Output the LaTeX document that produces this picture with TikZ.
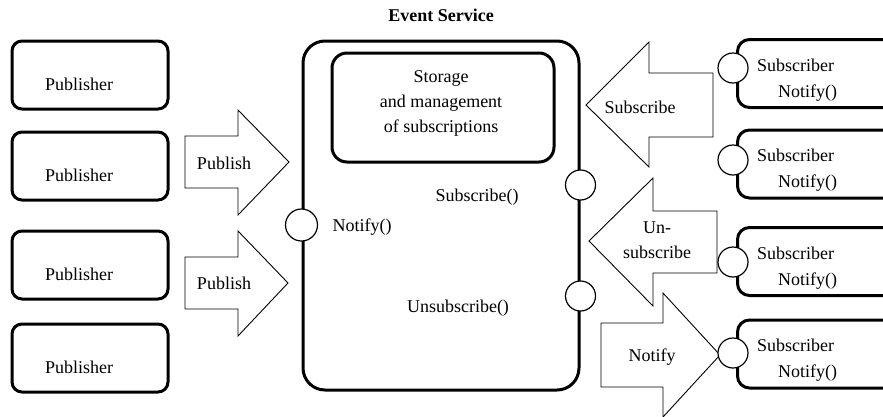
\documentclass[tikz,border=0pt]{standalone}
\usepackage{fontspec}
\setmainfont{Liberation Serif}
\usepackage{tikz}
\usetikzlibrary{positioning}

\begin{document}
\begin{tikzpicture}[
    x=1pt, y=-1pt,
    font=\fontsize{18}{25}\selectfont,
    pubbox/.style={draw, line width=3pt, rounded corners=10pt, minimum width=156pt, minimum height=68pt},
    subbox/.style={draw, line width=3pt, rounded corners=12pt, minimum width=164pt, minimum height=68pt, anchor=west},
    port/.style={circle, draw, fill=white, line width=1.2pt, minimum size=30pt, inner sep=0pt},
    blockarrow/.style={draw, line width=0.9pt, fill=white},
    txt/.style={inner sep=0pt, align=center}
]
    \useasboundingbox (0,0) rectangle (883,416);

    % Nodes
    \node[pubbox] (pub1) at (90,75) {};
    \node[pubbox] (pub2) at (90,166) {};
    \node[pubbox] (pub3) at (90,265) {};
    \node[pubbox] (pub4) at (90,358) {};
    \foreach \i in {1,...,4}
        \node[txt] (pubtxt\i) at ([xshift=-11pt, yshift=-9pt]pub\i.center) {Publisher};

    \node[draw, line width=3pt, rounded corners=22pt, minimum width=276pt, minimum height=349pt] (evs) at (441,215.5) {};
    \node[txt, font=\fontsize{18}{25}\selectfont\bfseries, above=18pt of evs.north] (evstitle) {Event Service};
    \node[draw, line width=3pt, rounded corners=15pt, minimum width=222pt, minimum height=109pt] (store) at (443,107.5) {};
    \node[txt] (storetxt) at (441,103) {Storage\\and management\\of subscriptions};

    \node[subbox] (sub1) at (736,73.5) {};
    \node[subbox] (sub2) at (736,164) {};
    \node[subbox] (sub3) at (736,261.5) {};
    \node[subbox] (sub4) at (736,354) {};
    \foreach \i in {1,...,4}
        \node[txt, align=left, anchor=north west, font=\fontsize{18}{26}\selectfont] (subtxt\i) at ([xshift=21pt, yshift=15pt]sub\i.west) {Subscriber\\\hspace*{21pt}Notify()};

    % Arrows
    \draw[blockarrow] (185,136) -- (238,136) -- (238,110) -- (289,162) -- (238,215) -- (238,188) -- (185,188) -- cycle;
    \draw[blockarrow] (185,257) -- (238,257) -- (238,231) -- (288,283) -- (238,336) -- (238,309) -- (185,309) -- cycle;
    \draw[blockarrow] (713,73) -- (649,73) -- (649,42) -- (586,105) -- (649,167) -- (649,137) -- (713,137) -- cycle;
    \draw[blockarrow] (717,211) -- (653,211) -- (653,178) -- (589,241) -- (653,306) -- (653,273) -- (717,273) -- cycle;
    \draw[blockarrow] (601,323) -- (663,323) -- (663,293) -- (720,355) -- (663,417) -- (663,387) -- (601,387) -- cycle;
    \node[txt] (pubarr1) at (224,163) {Publish};
    \node[txt] (pubarr2) at (224,283) {Publish};
    \node[txt] (subarr) at (640,107) {Subscribe};
    \node[txt] (unsubarr) at (657,240) {Un-\\subscribe};
    \node[txt] (notarr) at (652,357) {Notify};

    % Ports
    \node[port, minimum size=32pt] (portN) at (evs.west |- 0,225) {};
    \node[port] (portS) at (evs.east |- 0,185) {};
    \node[port] (portU) at (evs.east |- 0,296) {};
    \node[txt] (portNtxt) at (362,227) {Notify()};
    \node[txt] (portStxt) at (477,197) {Subscribe()};
    \node[txt] (portUtxt) at (458,308) {Unsubscribe()};
    \node[port] (sp1) at (733,68) {};
    \node[port] (sp2) at (733,160) {};
    \node[port] (sp3) at (733,262) {};
    \node[port] (sp4) at (733,353) {};
\end{tikzpicture}
\end{document}
